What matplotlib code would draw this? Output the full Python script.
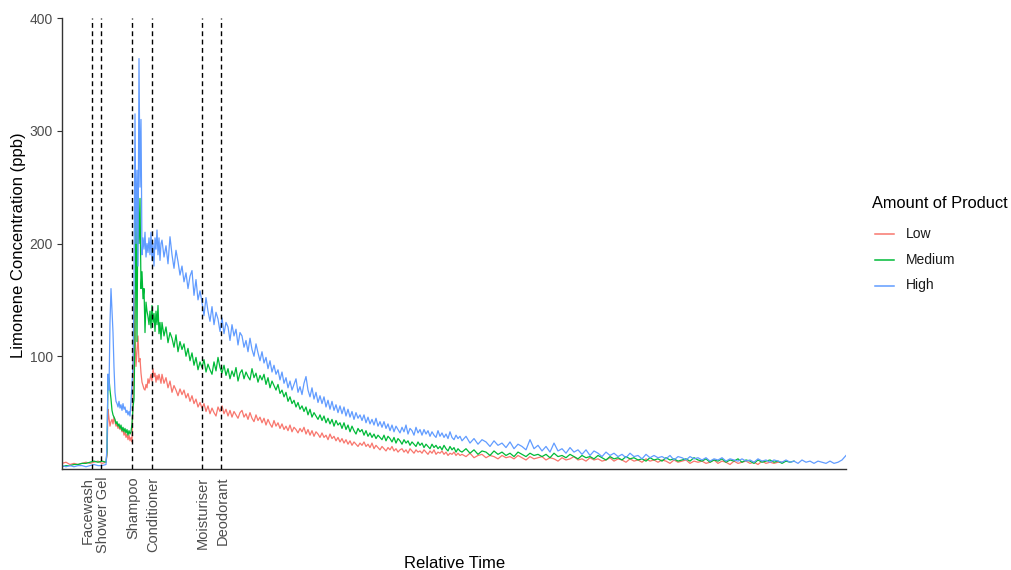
import numpy as np
import matplotlib
matplotlib.use("Agg")
import matplotlib.pyplot as plt
from matplotlib.lines import Line2D

plt.rcParams['font.family'] = ['Liberation Sans', 'DejaVu Sans']

# ---------------- data ----------------
# relative time grid (arbitrary units)
time_a = np.arange(0, 45, 4)        # 12 samples
time_b = np.arange(45, 100, 1)      # 55 samples
time_c = np.arange(100, 400, 2)     # 150 samples
time_d = np.arange(400, 785, 4)     # 97 samples
time = np.concatenate([time_a, time_b, time_c, time_d])

series_names = ["Low", "Medium", "High"]

high_a = [3, 2, 3, 2, 3, 3, 2, 3, 4, 3, 3, 4]
high_b = [20, 84, 70, 130, 160, 140, 121, 90, 68, 60, 58, 55, 60, 54, 57, 52, 58, 53, 55, 50,
          52, 48, 51, 47, 60, 75, 92, 160, 315, 200, 265, 180, 364, 250, 310, 190, 205, 195, 210, 188,
          200, 192, 205, 190, 210, 185, 200, 180, 205, 195, 212, 190, 205, 185, 200]
high_c = [203, 188, 198, 182, 206, 190, 178, 194, 184, 172,
          180, 166, 174, 160, 171, 176, 154, 168, 150, 158,
          148, 136, 152, 140, 131, 144, 128, 139, 133, 122,
          134, 120, 130, 126, 114, 128, 118, 124, 110, 121,
          118, 108, 114, 104, 116, 106, 100, 111, 103, 96,
          104, 94, 99, 89, 96, 86, 92, 84, 88, 79,
          86, 76, 81, 72, 78, 70, 75, 80, 68, 73,
          66, 76, 82, 70, 64, 72, 62, 68, 59, 65,
          58, 64, 55, 61, 53, 60, 52, 57, 50, 56,
          49, 55, 47, 53, 46, 51, 44, 50, 45, 48,
          43, 48, 41, 46, 40, 44, 39, 45, 38, 42,
          37, 42, 36, 40, 34, 39, 33, 38, 35, 32,
          37, 33, 39, 31, 36, 34, 30, 37, 32, 35,
          30, 35, 31, 34, 29, 33, 30, 28, 34, 29,
          32, 28, 31, 27, 33, 28, 26, 30, 27, 29]
high_d = [25, 29, 23, 27, 22, 26, 24, 20, 25, 21,
          23, 19, 24, 18, 22, 20, 17, 26, 18, 21,
          16, 20, 15, 23, 16, 18, 14, 19, 15, 17,
          13, 17, 12, 16, 14, 11, 15, 12, 14, 11,
          13, 10, 14, 11, 12, 9, 13, 10, 12, 10,
          11, 9, 12, 8, 11, 10, 8, 11, 9, 10,
          8, 10, 7, 9, 8, 10, 7, 9, 8, 7,
          9, 7, 8, 6, 9, 7, 8, 6, 8, 7,
          6, 8, 6, 7, 5, 8, 6, 7, 5, 7,
          6, 5, 7, 5, 6, 8, 12]

medium_a = [2, 3, 3, 4, 4, 5, 5, 6, 7, 6, 7, 6]
medium_b = [15, 84, 80, 70, 62, 52, 48, 46, 44, 40, 42, 38, 40, 36, 39, 34, 37, 33, 36, 32,
            35, 30, 34, 31, 33, 40, 55, 62, 120, 237, 113, 246, 200, 240, 160, 175, 151, 160, 121, 148,
            140, 135, 128, 140, 125, 145, 130, 138, 122, 140, 128, 145, 120, 130, 115]
medium_c = [130, 118, 126, 112, 121, 116, 108, 119, 104, 113,
            106, 111, 100, 107, 96, 103, 92, 99, 88, 95,
            90, 97, 86, 93, 88, 84, 95, 87, 99, 90,
            85, 92, 83, 89, 80, 87, 82, 90, 78, 85,
            88, 80, 86, 82, 79, 89, 81, 85, 77, 83,
            79, 84, 75, 81, 72, 78, 74, 70, 75, 67,
            70, 64, 68, 60, 64, 58, 61, 55, 59, 53,
            56, 51, 55, 48, 53, 46, 50, 47, 44, 48,
            43, 47, 41, 45, 40, 44, 38, 43, 39, 41,
            36, 41, 35, 39, 33, 38, 34, 31, 36, 33,
            35, 30, 34, 29, 32, 28, 31, 27, 30, 28,
            26, 30, 25, 29, 27, 24, 28, 23, 27, 25,
            22, 26, 23, 25, 21, 24, 22, 20, 24, 21,
            23, 19, 22, 20, 18, 22, 19, 21, 18, 20,
            17, 21, 18, 16, 20, 17, 19, 15, 18, 16]
medium_d = [15, 18, 14, 17, 13, 16, 15, 12, 16, 13,
            15, 12, 14, 11, 15, 13, 11, 14, 12, 13,
            11, 13, 10, 14, 11, 12, 10, 13, 11, 9,
            12, 10, 11, 9, 12, 10, 8, 11, 9, 10,
            8, 11, 9, 10, 8, 9, 7, 10, 8, 9,
            7, 10, 8, 9, 7, 8, 9, 7, 10, 8,
            7, 9, 6, 8, 7, 9, 6, 8, 7, 9,
            6, 8, 7, 5, 8, 6, 7, 8, 6, 7,
            5, 7, 6, 7]

low_a = [5, 6, 4, 5, 4, 5, 6, 5, 6, 7, 5, 6]
low_b = [12, 53, 45, 38, 42, 44, 40, 46, 42, 38, 40, 36, 39, 35, 37, 33, 35, 30, 33, 28,
         31, 26, 30, 25, 28, 24, 62, 157, 120, 91, 105, 118, 95, 98, 85, 77, 74, 71, 70, 75,
         72, 80, 76, 80, 84, 78, 89, 82, 85, 77, 83, 79, 84, 80, 76]
low_c = [84, 76, 81, 72, 78, 68, 74, 70, 65, 71,
         66, 70, 63, 67, 60, 65, 58, 62, 55, 59,
         54, 58, 51, 56, 49, 54, 50, 47, 55, 51,
         56, 49, 53, 47, 52, 46, 51, 48, 45, 50,
         52, 46, 49, 44, 50, 45, 42, 48, 43, 46,
         41, 45, 39, 44, 40, 37, 43, 38, 41, 36,
         40, 35, 38, 34, 39, 33, 37, 35, 32, 36,
         33, 37, 31, 35, 30, 34, 29, 33, 31, 28,
         32, 28, 30, 26, 31, 27, 29, 25, 28, 24,
         27, 23, 26, 22, 25, 21, 24, 22, 20, 23,
         21, 24, 20, 22, 19, 23, 18, 21, 19, 17,
         20, 18, 16, 19, 17, 20, 16, 18, 15, 17,
         18, 15, 17, 14, 18, 16, 14, 17, 15, 16,
         14, 17, 15, 13, 16, 14, 17, 13, 15, 14,
         16, 13, 15, 12, 14, 13, 15, 12, 14, 12]
low_d = [13, 11, 14, 10, 12, 13, 10, 12, 11, 9,
         12, 10, 11, 9, 12, 10, 8, 11, 9, 10,
         11, 8, 10, 9, 7, 10, 8, 9, 11, 8,
         9, 7, 10, 8, 9, 7, 8, 10, 7, 9,
         8, 6, 9, 7, 8, 6, 9, 7, 8, 6,
         8, 7, 5, 8, 6, 7, 8, 5, 7, 6,
         7, 5, 6, 8, 5, 7, 6, 4, 7, 5,
         6, 7, 5, 6, 4, 7, 5, 6, 5, 6,
         6]

event_names = ["Facewash", "Shower Gel", "Shampoo", "Conditioner", "Moisturiser", "Deodorant"]
event_times = [30.5, 39.5, 70.2, 89.8, 139.8, 158.8]

y_ticks = [100, 200, 300, 400]

# ---------------- styling ----------------
colors = {"Low": "#F8766D", "Medium": "#00BA38", "High": "#619CFF"}
label_dx = [-4.5, 1.5, 1.0, 1.0, 1.0, 1.5]   # small horizontal nudges (px)

low = low_a + low_b + low_c + low_d
medium = medium_a + medium_b + medium_c + medium_d
high = high_a + high_b + high_c + high_d
values = {"Low": low, "Medium": medium, "High": high}

W, H, DPI = 1012, 570, 100
fig = plt.figure(figsize=(W / DPI, H / DPI), dpi=DPI)
ax = fig.add_axes([62 / W, 1 - 469 / H, (846 - 62) / W, (469 - 18) / H])

for name in series_names:
    v = values[name]
    ax.plot(time[:len(v)], v, color=colors[name], lw=0.9, zorder=2)

for et in event_times:
    ax.axvline(et, color="black", lw=1.0, ls=(0, (3.5, 2.5)), zorder=3)

ax.set_xlim(0, 784)
ax.set_ylim(0, 400)
ax.set_yticks(y_ticks)
ax.set_yticklabels([str(t) for t in y_ticks])
ax.set_xticks([])
ax.tick_params(axis='y', length=3.5, width=0.8, color="#333333", labelcolor="#4D4D4D",
               labelsize=10, pad=3)
for s in ["top", "right"]:
    ax.spines[s].set_visible(False)
for s in ["left", "bottom"]:
    ax.spines[s].set_color("#333333")
    ax.spines[s].set_linewidth(1.0)

for name, et, dx in zip(event_names, event_times, label_dx):
    ax.annotate(name, xy=(et + dx, 0), xycoords=('data', 'axes fraction'),
                xytext=(0, -5.5), textcoords='offset points', rotation=90,
                ha='center', va='top', fontsize=10.5, color="#4D4D4D")

fig.text(19 / W, 1 - 245 / H, "Limonene Concentration (ppb)", rotation=90,
         ha='center', va='center', fontsize=12, color="black")
fig.text(455 / W, 1 - 563 / H, "Relative Time", ha='center', va='center',
         fontsize=12, color="black")

# legend (placed manually to mirror the reference layout)
fig.text(872 / W, 1 - 204 / H, "Amount of Product", ha='left', va='center',
         fontsize=11.8, color="black")
for i, name in enumerate(series_names):
    yc = 1 - (233.5 + 26 * i) / H
    fig.add_artist(Line2D([875 / W, 894 / W], [yc, yc], color=colors[name], lw=1.1,
                          transform=fig.transFigure))
    fig.text(906 / W, yc, name, ha='left', va='center', fontsize=10, color="#1A1A1A")

fig.savefig("out.png", dpi=DPI)
